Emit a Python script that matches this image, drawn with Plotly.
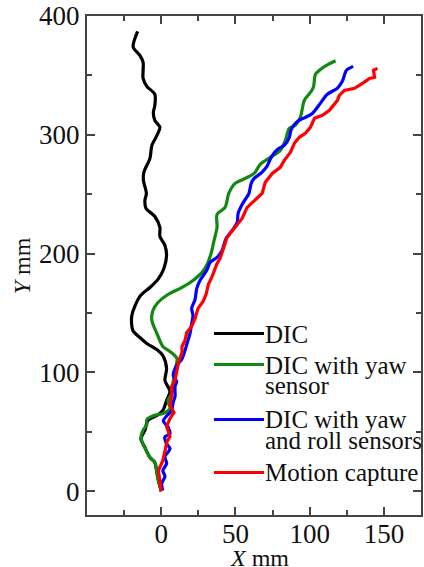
import plotly.graph_objects as go

# ---- data (mm) ----
dic_x = [0, -2.2, -3.1, -4.3, -7.6, -11.0, -13.7, -11.0, -9.0, -2.9, 1.1, 3.6, 5.9, 2.5, 3.6, 1.1,
         -2.2, -9.7, -14.4, -19.1, -19.8, -14.4, -7.6, -2.2, 1.8, 3.6, 2.5, -0.9, -0.9, -4.3,
         -10.3, -11.0, -10.0, -12.0, -11.7, -7.6, -6.3, -2.9, -0.9, -4.3, -5.3, -4.3, -4.3,
         -9.7, -12.2, -12.2, -14.4, -18.9, -15.9]
dic_y = [0, 10.7, 17.4, 24.2, 28.4, 36.8, 44.4, 51.1, 59.5, 63.7, 68.0, 76.4, 84.0, 93.2, 103.3, 114.3,
         118.5, 124.4, 129.4, 135.3, 148.0, 164.0, 171.5, 178.3, 187.5, 198.5, 206.9, 214.5, 222.1, 231.3,
         238.1, 244.8, 250.7, 261.6, 268.4, 280.2, 291.1, 299.5, 306.3, 312.2, 318.9, 324.8, 334.1,
         340.8, 347.5, 361.0, 366.9, 373.9, 387.1]

yaw_x = [0, -2.2, -3.1, -4.3, -7.6, -11.0, -13.7, -12.4, -9.7, -9.7, -4.9, 1.1, 5.9, 4.5, 7.2, 7.9,
         9.3, 10.6, 5.9, 1.1, -2.9, -6.3, -5.6, -2.2, 4.5, 14.0, 21.4, 27.5, 30.9, 33.6, 35.6,
         37.6, 37.6, 43.0, 45.5, 49.8, 56.6, 62.6, 66.7, 73.5, 80.2, 83.6, 86.3, 90.3, 93.7,
         96.4, 100.5, 102.5, 103.9, 107.2, 111.3, 117.5]
yaw_y = [0, 10.7, 17.4, 24.2, 28.4, 36.8, 44.4, 51.1, 56.2, 60.4, 63.7, 65.4, 69.6, 76.4, 82.3, 90.7,
         101.6, 111.7, 117.6, 121.9, 132.8, 143.7, 152.2, 158.9, 165.6, 171.5, 177.4, 184.2, 190.9, 200.2, 211.1,
         222.1, 233.0, 238.9, 250.7, 259.1, 263.3, 267.5, 275.1, 281.0, 286.9, 295.3, 305.4, 308.0, 314.7,
         329.0, 335.7, 340.0, 350.9, 355.0, 358.4, 362.3]

roll_x = [1.1, 0.3, 2.5, 1.1, 3.6, 2.5, 5.9, 3.2, 2.5, 5.9, 4.5, 1.4, 3.6, 7.0, 8.1, 9.3, 9.3, 10.4,
          8.1, 10.4, 13.8, 16.0, 17.4, 19.4, 20.5, 21.4, 20.5, 22.8, 23.9, 26.1, 30.7, 32.9, 37.6,
          41.0, 43.7, 47.8, 51.2, 51.8, 54.5, 59.1, 60.6, 62.6, 67.8, 71.2, 74.1, 78.2, 82.9, 86.3,
          87.6, 91.7, 97.1, 101.8, 107.2, 111.9, 118.6, 122.0, 124.8, 129.3]
roll_y = [0.6, 6.5, 12.4, 17.4, 23.4, 29.2, 35.8, 40.8, 45.8, 48.3, 54.2, 59.2, 63.4, 67.6, 75.2, 79.7, 88.2, 92.4,
          97.4, 105.9, 110.9, 118.5, 124.4, 132.8, 141.2, 147.9, 153.9, 161.4, 170.6, 177.4, 185.9, 192.6, 196.8,
          202.7, 212.8, 219.5, 226.3, 233.9, 241.4, 250.7, 259.1, 263.3, 268.4, 273.4, 281.0, 287.7, 291.1, 297.9,
          304.6, 311.3, 314.7, 318.0, 326.5, 334.1, 339.1, 345.0, 354.3, 357.6]

mocap_x = [0, -0.9, -1.9, 1.1, 2.5, 3.9, 5.9, 3.6, 5.9, 8.6, 5.9, 7.0, 7.0, 9.3, 10.6, 12.0, 14.0, 14.0,
           16.0, 17.2, 20.5, 22.8, 24.8, 28.2, 30.2, 31.8, 34.3, 37.6, 39.7, 42.4, 44.4, 49.8, 54.5,
           57.9, 62.6, 68.0, 70.1, 74.8, 80.2, 82.9, 87.0, 89.7, 93.0, 97.1, 100.5, 103.2, 108.6,
           113.3, 118.7, 120.0, 123.4, 130.2, 135.6, 140.3, 143.7, 143.0, 145.7]
mocap_y = [0, 6.5, 17.4, 25.9, 34.3, 41.8, 46.1, 54.5, 61.2, 66.3, 72.2, 80.6, 88.2, 93.2, 101.6, 110.1, 116.8, 121.9,
           126.9, 133.6, 138.7, 145.4, 153.9, 159.8, 165.6, 174.1, 180.8, 191.8, 196.0, 206.1, 213.7, 222.1, 229.6,
           238.9, 244.8, 250.7, 260.0, 267.5, 272.6, 278.5, 285.2, 292.8, 297.9, 301.3, 306.3, 313.9, 316.4,
           320.6, 329.0, 333.2, 337.4, 339.1, 343.3, 347.5, 348.4, 354.3, 355.9]

series_names = ["DIC", "DIC with yaw sensor", "DIC with yaw and roll sensors", "Motion capture"]
legend_lines = [["DIC"], ["DIC with yaw", "sensor"], ["DIC with yaw", "and roll sensors"], ["Motion capture"]]
series_colors = ["#000000", "#118811", "#0000ff", "#ff0000"]

x_ticks = [0, 50, 100, 150]
y_ticks = [0, 100, 200, 300, 400]

FONT = "Liberation Serif, Times New Roman, serif"

fig = go.Figure()
data = [(dic_x, dic_y, "spline"), (yaw_x, yaw_y, "spline"), (roll_x, roll_y, "spline"), (mocap_x, mocap_y, "linear")]
for (xs, ys, shape), name, col in zip(data, series_names, series_colors):
    line = dict(color=col, width=3.2, shape=shape)
    if shape == "spline":
        line["smoothing"] = 0.8
    fig.add_trace(go.Scatter(x=xs, y=ys, mode="lines", name=name, line=line, showlegend=False))

# manual legend (tight line spacing like the original)
legend_line_y = [0.3637, 0.3016, 0.1914, 0.0852]
legend_text_y = [[0.3611], [0.2996, 0.2595], [0.1914, 0.1493], [0.0846]]
for col, ly, texts, tys in zip(series_colors, legend_line_y, legend_lines, legend_text_y):
    fig.add_shape(type="line", xref="paper", yref="paper", x0=0.380, x1=0.530, y0=ly, y1=ly,
                  line=dict(color=col, width=3))
    for t, ty in zip(texts, tys):
        fig.add_annotation(xref="paper", yref="paper", x=0.528, y=ty, text=t, showarrow=False,
                           xanchor="left", yanchor="middle", font=dict(family=FONT, size=25, color="#111"))

# axis titles
fig.add_annotation(xref="paper", yref="paper", x=0.515, y=-0.086, text="<i>X</i> mm", showarrow=False,
                   xanchor="center", yanchor="middle", font=dict(family=FONT, size=24, color="#111"))
fig.add_annotation(xref="paper", yref="paper", x=-0.195, y=0.50, text="<i>Y</i> mm", showarrow=False,
                   textangle=-90, xanchor="center", yanchor="middle", font=dict(family=FONT, size=24, color="#111"))

axis_common = dict(showgrid=False, zeroline=False, showline=True, linecolor="#444", linewidth=2,
                   mirror="ticks", ticks="inside", ticklen=8, tickwidth=1.5, tickcolor="#444",
                   tickfont=dict(family=FONT, size=27, color="#111"))
fig.update_xaxes(range=[-50, 175], tickvals=x_ticks, ticklabelstandoff=-6,
                 minor=dict(tickvals=[-25, 25, 75, 125], ticks="inside", ticklen=5, tickcolor="#444", tickwidth=1.5),
                 **axis_common)
fig.update_yaxes(range=[-20, 400], tickvals=y_ticks,
                 minor=dict(tickvals=[50, 150, 250, 350], ticks="inside", ticklen=5, tickcolor="#444", tickwidth=1.5),
                 **axis_common)

fig.update_layout(width=424, height=567, margin=dict(l=87, r=3, t=16, b=52, autoexpand=False),
                  plot_bgcolor="white", paper_bgcolor="white", showlegend=False)

fig.write_html("out.html", config={"displayModeBar": False},
               post_script="document.body.style.margin='0';document.body.style.overflow='hidden';")
